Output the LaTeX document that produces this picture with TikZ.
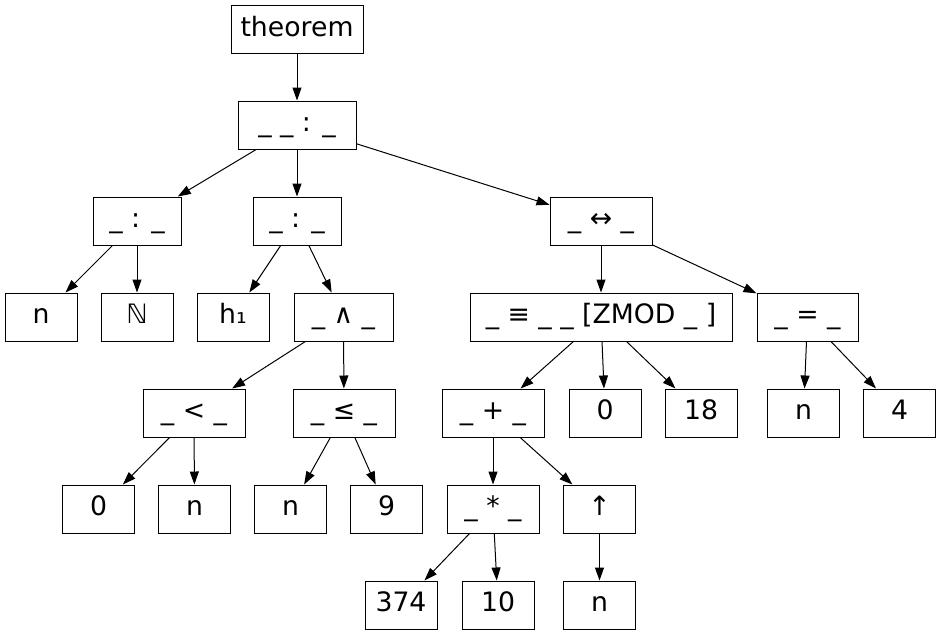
\documentclass[tikz,border=0pt]{standalone}
\usepackage{fontspec}
\setmainfont{DejaVu Sans}
\usepackage{tikz}
\usetikzlibrary{arrows.meta}

\begin{document}
\begin{tikzpicture}[x=1pt, y=-1pt,
    every node/.style={font=\fontsize{26.7}{32}\selectfont},
    box/.style={draw=black, line width=1pt, minimum height=48pt, inner sep=0pt,
        text height=20pt, text depth=7pt},
    leaf/.style={box, minimum width=72pt},
    edge/.style={-{Triangle[length=13pt,width=9pt]}, line width=1pt}]
    \useasboundingbox (0,0) rectangle (941,635);

    % Root and top ascription
    \node[box, minimum width=132pt] (thm) at (297,29.5) {theorem};
    \node[box, minimum width=118pt] (top) at (297,125) {\_ \_ : \_};

    % Binders
    \node[box, minimum width=88pt] (bindn) at (137,221) {\_ : \_};
    \node[box, minimum width=88pt] (bindh) at (297,221) {\_ : \_};
    \node[box, minimum width=102pt] (iff) at (601,221) {\_ ↔ \_};

    % Level 3
    \node[leaf] (varn) at (41,317) {n};
    \node[leaf] (nat) at (137,317) {ℕ};
    \node[leaf] (hyp) at (233,317) {h₁};
    \node[box, minimum width=99pt] (conj) at (343.5,317) {\_ ∧ \_};
    \node[box, minimum width=262pt] (zmod) at (601,317) {\_ ≡ \_ \_ [ZMOD \_ ]};
    \node[box, minimum width=101pt] (eq) at (807.5,317) {\_ = \_};

    % Level 4
    \node[box, minimum width=102pt] (less) at (194,413) {\_ < \_};
    \node[box, minimum width=102pt] (leq) at (344,413) {\_ ≤ \_};
    \node[box, minimum width=102pt] (plus) at (493,413) {\_ + \_};
    \node[leaf] (zeroB) at (605,413) {0};
    \node[leaf] (eighteen) at (701,413) {18};
    \node[leaf] (varnC) at (803.5,413) {n};
    \node[leaf] (four) at (899.5,413) {4};

    % Level 5
    \node[leaf] (zeroA) at (98.5,509) {0};
    \node[leaf] (varnA) at (194.5,509) {n};
    \node[leaf] (varnB) at (290.5,509) {n};
    \node[leaf] (nine) at (386.5,509) {9};
    \node[box, minimum width=92pt] (mul) at (493,509) {\_ * \_};
    \node[leaf] (cast) at (599.5,509) {↑};

    % Level 6
    \node[leaf] (big) at (401,605) {374};
    \node[leaf] (ten) at (498,605) {10};
    \node[leaf] (varnD) at (599.5,605) {n};

    % Edges
    \draw[edge] (thm) -- (top);
    \draw[edge] (top) -- (bindn);
    \draw[edge] (top) -- (bindh);
    \draw[edge] (top) -- (iff);
    \draw[edge] (bindn) -- (varn);
    \draw[edge] (bindn) -- (nat);
    \draw[edge] (bindh) -- (hyp);
    \draw[edge] (bindh) -- (conj);
    \draw[edge] (conj) -- (less);
    \draw[edge] (conj) -- (leq);
    \draw[edge] (less) -- (zeroA);
    \draw[edge] (less) -- (varnA);
    \draw[edge] (leq) -- (varnB);
    \draw[edge] (leq) -- (nine);
    \draw[edge] (iff) -- (zmod);
    \draw[edge] (iff) -- (eq);
    \draw[edge] (zmod) -- (plus);
    \draw[edge] (zmod) -- (zeroB);
    \draw[edge] (zmod) -- (eighteen);
    \draw[edge] (eq) -- (varnC);
    \draw[edge] (eq) -- (four);
    \draw[edge] (plus) -- (mul);
    \draw[edge] (plus) -- (cast);
    \draw[edge] (mul) -- (big);
    \draw[edge] (mul) -- (ten);
    \draw[edge] (cast) -- (varnD);
\end{tikzpicture}
\end{document}
